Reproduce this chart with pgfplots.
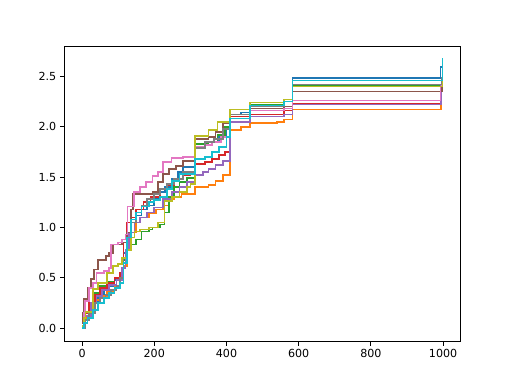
\documentclass[border=0pt]{standalone}
\usepackage{fontspec}
\setmainfont{DejaVu Sans}
\usepackage{pgfplots}
\pgfplotsset{compat=1.18}
\definecolor{C0}{HTML}{1F77B4}
\definecolor{C1}{HTML}{FF7F0E}
\definecolor{C2}{HTML}{2CA02C}
\definecolor{C3}{HTML}{D62728}
\definecolor{C4}{HTML}{9467BD}
\definecolor{C5}{HTML}{8C564B}
\definecolor{C6}{HTML}{E377C2}
\definecolor{C7}{HTML}{7F7F7F}
\definecolor{C8}{HTML}{BCBD22}
\definecolor{C9}{HTML}{17BECF}
\begin{document}
\begin{tikzpicture}
\begin{axis}[
  scale only axis, width=357.12pt, height=266.11pt,
  xmin=-49.95, xmax=1048.95, ymin=-0.1335, ymax=2.80,
  xtick={0,200,400,600,800,1000},
  ytick={0,0.5,1,1.5,2,2.5},
  xticklabel style={/pgf/number format/.cd, 1000 sep={}},
  yticklabel style={/pgf/number format/.cd, fixed, fixed zerofill, precision=1},
  /pgf/number format/assume math mode=true,
  tick label style={font=\fontsize{10}{12}\selectfont},
  tick align=outside, major tick length=3.5pt,
  xtick pos=bottom, ytick pos=left,
  axis line style={line width=0.8pt},
  every tick/.style={line width=0.8pt, black},
  every axis plot/.append style={line width=1.5pt, const plot mark left, mark=none},
]
\addplot[C0] coordinates {(0,0.02)(5,0.08)(15,0.12)(30,0.25)(45,0.33)(60,0.38)(75,0.42)(90,0.48)(105,0.55)(115,0.75)(125,0.95)(135,1.05)(150,1.12)(165,1.18)(180,1.22)(200,1.28)(215,1.35)(230,1.40)(250,1.48)(265,1.55)(280,1.60)(312,1.80)(340,1.82)(360,1.85)(380,1.92)(400,2.00)(410,2.12)(440,2.14)(465,2.20)(530,2.22)(560,2.25)(583,2.48)(993,2.59)(999,2.59)};
\addplot[C1] coordinates {(0,0.0)(10,0.1)(20,0.2)(35,0.28)(50,0.32)(70,0.36)(90,0.42)(105,0.50)(115,0.62)(125,0.80)(135,0.95)(150,1.05)(160,1.10)(185,1.14)(205,1.18)(225,1.22)(240,1.28)(255,1.30)(275,1.33)(312,1.40)(350,1.42)(370,1.46)(390,1.52)(409,1.97)(440,2.00)(465,2.04)(540,2.05)(560,2.07)(583,2.17)(994,2.38)(999,2.38)};
\addplot[C2] coordinates {(0,0.02)(8,0.12)(20,0.25)(35,0.35)(50,0.42)(70,0.46)(90,0.50)(105,0.55)(115,0.68)(125,0.78)(135,0.83)(150,0.88)(165,0.96)(185,0.98)(195,1.00)(215,1.03)(228,1.15)(240,1.30)(255,1.40)(270,1.45)(290,1.49)(312,1.83)(350,1.85)(375,1.92)(395,2.00)(410,2.12)(465,2.22)(560,2.25)(583,2.41)(997,2.47)(999,2.47)};
\addplot[C3] coordinates {(0,0.02)(8,0.15)(20,0.25)(35,0.33)(50,0.40)(70,0.45)(90,0.50)(105,0.55)(115,0.85)(125,1.05)(135,1.10)(150,1.18)(170,1.25)(190,1.30)(215,1.38)(235,1.42)(255,1.48)(280,1.52)(300,1.55)(312,1.63)(340,1.65)(360,1.68)(380,1.72)(395,1.75)(409,2.10)(465,2.12)(560,2.16)(583,2.23)(995,2.42)(999,2.42)};
\addplot[C4] coordinates {(0,0.02)(10,0.12)(25,0.25)(40,0.32)(55,0.38)(75,0.43)(95,0.48)(110,0.60)(120,0.78)(130,0.95)(145,1.05)(160,1.10)(180,1.15)(200,1.20)(225,1.28)(250,1.35)(270,1.40)(290,1.45)(312,1.52)(335,1.55)(350,1.58)(370,1.62)(390,1.66)(409,2.05)(465,2.10)(560,2.12)(583,2.22)(995,2.42)(999,2.42)};
\addplot[C5] coordinates {(0,0.05)(3,0.15)(6,0.29)(15,0.40)(25,0.49)(33,0.585)(44,0.68)(66,0.72)(75,0.75)(85,0.83)(110,0.85)(125,0.95)(136,1.18)(142,1.33)(195,1.35)(210,1.45)(224,1.53)(240,1.58)(260,1.61)(280,1.66)(312,1.875)(350,1.90)(370,1.95)(390,2.04)(409,2.12)(465,2.18)(560,2.20)(583,2.35)(997,2.45)(999,2.45)};
\addplot[C6] coordinates {(0,0.02)(5,0.15)(8,0.27)(20,0.40)(30,0.45)(40,0.55)(60,0.57)(75,0.60)(80,0.83)(100,0.85)(110,0.88)(120,0.93)(126,1.21)(143,1.35)(160,1.40)(177,1.45)(195,1.51)(210,1.55)(224,1.65)(248,1.69)(279,1.70)(312,1.80)(340,1.82)(360,1.85)(385,1.90)(409,2.12)(465,2.16)(560,2.18)(583,2.26)(993,2.40)(997,2.45)(999,2.45)};
\addplot[C7] coordinates {(0,0.0)(10,0.08)(20,0.15)(35,0.25)(50,0.30)(65,0.33)(80,0.38)(95,0.42)(105,0.50)(115,0.70)(125,0.90)(135,1.05)(150,1.15)(165,1.22)(180,1.28)(200,1.33)(215,1.38)(235,1.43)(255,1.48)(280,1.55)(312,1.79)(340,1.85)(365,1.88)(390,1.98)(409,2.12)(465,2.20)(560,2.27)(583,2.42)(996,2.48)(999,2.48)};
\addplot[C8] coordinates {(0,0.02)(5,0.10)(10,0.16)(30,0.39)(45,0.45)(70,0.55)(85,0.62)(100,0.64)(110,0.70)(125,0.78)(135,0.90)(145,0.96)(160,0.98)(185,1.00)(210,1.05)(228,1.26)(250,1.30)(270,1.35)(290,1.40)(300,1.43)(312,1.91)(350,1.97)(375,2.05)(409,2.17)(465,2.24)(560,2.27)(583,2.40)(998,2.54)(999,2.54)};
\addplot[C9] coordinates {(0,0.0)(5,0.05)(15,0.10)(30,0.18)(45,0.25)(60,0.30)(75,0.35)(90,0.40)(105,0.45)(115,0.65)(125,0.90)(135,1.08)(150,1.15)(165,1.21)(185,1.25)(200,1.27)(215,1.30)(235,1.38)(250,1.46)(270,1.53)(312,1.68)(340,1.70)(360,1.75)(380,1.80)(400,1.90)(409,2.08)(465,2.21)(560,2.25)(583,2.46)(998,2.67)(999,2.67)};
\end{axis}
\path (current axis.south west) ++(-57.6pt,-38.016pt) rectangle ([shift={(46.08pt,41.47pt)}]current axis.north east);
\end{tikzpicture}
\end{document}
